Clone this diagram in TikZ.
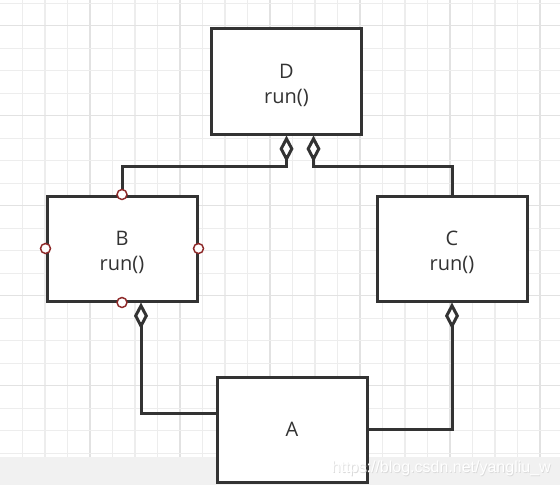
\documentclass[tikz,border=0pt]{standalone}
\usepackage{fontspec}
\setmainfont{Open Sans}
\newfontfamily\wmfont{Liberation Sans}
\usetikzlibrary{arrows.meta}
\definecolor{ink}{HTML}{333333}
\definecolor{gridc}{HTML}{EDEDED}
\definecolor{gridd}{HTML}{E2E2E2}
\definecolor{band}{HTML}{F1F1F1}
\definecolor{port}{HTML}{8E2A2A}
\newcommand\lowtxt[2]{\rule{0pt}{17pt}#1\\#2}
\begin{document}
\begin{tikzpicture}[x=0.75pt,y=-0.75pt,
 cls/.style={draw=ink, line width=2.25pt, fill=white, minimum width=112.5pt, minimum height=78.75pt, inner sep=0pt, align=center, font=\fontsize{15}{19}\selectfont, text=ink},
 agg/.style={draw=ink, line width=2.25pt, {Diamond[fill=white,length=20pt,width=10.5pt]}-},
 portc/.style={circle, draw=port, fill=white, line width=1.1pt, minimum size=7.5pt, inner sep=0pt},
 gl/.style={gridc, line width=0.9pt},
 gd/.style={gridd, line width=0.9pt},
 wm/.style={font=\wmfont\fontsize{12}{14}\selectfont, anchor=base east, inner sep=0pt}]
\useasboundingbox (0,0) rectangle (560,485);
\fill[white] (0,0) rectangle (560,485);
\foreach \k in {1,...,24} \draw[gl] (22.5*\k,0) -- (22.5*\k,457);
\foreach \k in {4,8,...,24} \draw[gd] (22.5*\k,0) -- (22.5*\k,457);
\foreach \k in {0,...,20} \draw[gl] (0,3.3+22.5*\k) -- (560,3.3+22.5*\k);
\foreach \k in {1,5,...,17} \draw[gd] (0,3.3+22.5*\k) -- (560,3.3+22.5*\k);
\fill[band] (0,457) rectangle (560,485);

\node[cls] (D) at (286.5,81.5) {\lowtxt{D}{run()}};
\node[cls] (B) at (122,248.5) {\lowtxt{B}{run()}};
\node[cls] (C) at (452,248.5) {\lowtxt{C}{run()}};
\node[cls] (A) at (292,429.5) {A};

\draw[agg] (D.south) -- ++(0,31) -| (B.north);
\draw[agg] ([xshift=20.25pt]D.south) -- ++(0,31) -| (C.north);
\draw[agg] ([xshift=14.25pt]B.south) |- ([yshift=12pt]A.west);
\draw[agg] (C.south) |- (A.east);

\foreach \a in {north,south,east,west} \node[portc] (p\a) at (B.\a) {};

\node[wm, text=black!14] (wm0) at (551.8,473.3) {https://blog.csdn.net/yangliu\_w};
\node[wm, text=white] (wm1) at (551,472.5) {https://blog.csdn.net/yangliu\_w};
\end{tikzpicture}
\end{document}
